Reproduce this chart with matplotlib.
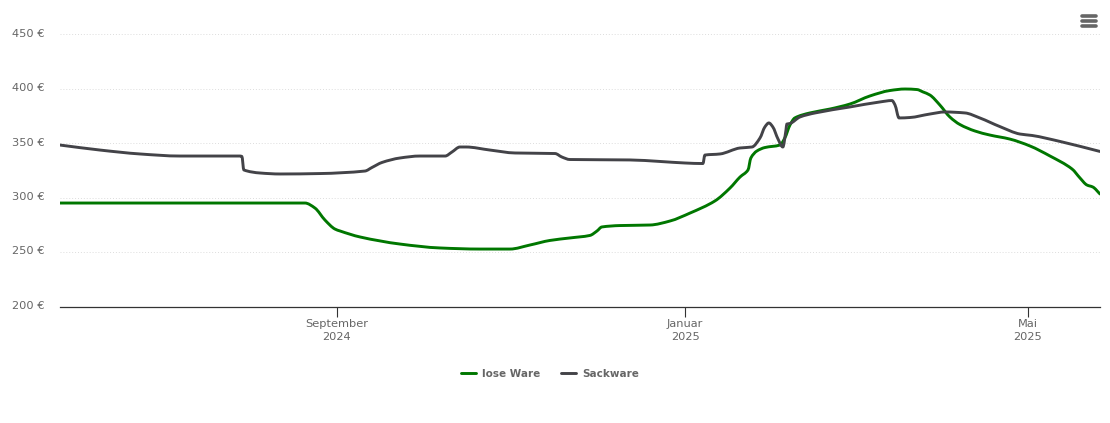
import matplotlib
matplotlib.use("Agg")
import matplotlib.pyplot as plt
import matplotlib.transforms as mtrans
from matplotlib.lines import Line2D
from matplotlib.patches import PathPatch
from matplotlib.path import Path

# days since 27 May 2024, price in euro
lose_days = [0, 85.8, 89.3, 92.8, 96.3, 98.1, 105.1, 119.1, 133.1, 147.1, 157.6, 164.6, 171.6, 178.6, 185.6, 188.1, 189.8,
	196.1, 206.7, 213.7, 220.7, 229.4, 234.7, 238.2, 241, 242, 244.1, 246.9, 252.2, 253.9, 255.7, 257.4, 262.7, 269.7,
	276.7, 283.7, 290.7, 296, 300.2, 302.3, 304.7, 308.2, 311.7, 315.2, 320.5, 325.7, 332.7, 339.8, 346.8, 354.5, 357.3,
	359.7, 361.8, 364.3]
lose_price = [295.1, 295.1, 290.5, 279.5, 271.2, 269.4, 263.9, 257.4, 253.8, 252.8, 252.8, 256.5, 260.7, 263, 265.3, 269.4, 273.1,
	274.4, 274.9, 278.6, 285.9, 297, 308.9, 319, 325.5, 336.5, 342.9, 346.1, 348.4, 354.9, 366.8, 373.3, 377.9, 381.5,
	386.1, 393.5, 398.5, 399.9, 399.4, 397.2, 394.4, 385.2, 374.2, 367.3, 361.3, 357.6, 353.9, 347.5, 338.3, 326.4, 318.1,
	311.7, 309.8, 303.4]
sack_days = [0, 14, 28, 42, 63, 63.7, 64.4, 70.1, 77.1, 91.1, 106.8, 109.3, 112.8, 119.1, 126.1, 134.9, 137.3, 140.1, 142.2,
	150.6, 159.4, 173.4, 175.8, 178.6, 199.6, 210.2, 218.9, 225.2, 225.9, 231.2, 238.2, 242.4, 245.2, 246.9, 248.3, 249.7,
	251.5, 253.2, 254.3, 254.6, 255.7, 259.2, 264.5, 276.7, 287.2, 291.4, 292.5, 293.9, 297.7, 304.7, 310, 317, 322.2,
	329.2, 336.3, 340.5, 350.3, 364.3]
sack_price = [348.4, 343.8, 340.2, 338.3, 338.3, 337.9, 325.5, 322.7, 321.8, 322.2, 324.5, 327.8, 332.4, 336.5, 338.3, 338.3, 342, 346.6, 346.6,
	343.8, 341.1, 340.6, 337.4, 335.1, 334.7, 333.3, 331.9, 331.4, 339.2, 340.2, 345.7, 346.6, 354.9, 365, 368.7, 365,
	354, 346.6, 362.2, 367.7, 368.2, 374.2, 377.9, 383.4, 388, 389.3, 385.2, 373.3, 373.7, 376.9, 378.8, 377.9, 373.3,
	365.4, 358.5, 357.2, 351.7, 342.5]

y_ticks = [200, 250, 300, 350, 400, 450]
x_ticks = [97, 219, 339]
x_labels = ['September\n2024', 'Januar\n2025', 'Mai\n2025']

W, H = 1110, 423
lose_col = '#007700'
sack_col = '#434348'
text_col = '#666666'
line_w = 2.1


def spline_path(xs, ys):
	# the chart draws a rounded line through the points, so use bezier segments with flat tangents at turns
	n = len(xs)
	slopes = [(ys[i+1]-ys[i])/(xs[i+1]-xs[i]) for i in range(n-1)]
	tang = [slopes[0]]
	for i in range(1, n-1):
		if slopes[i-1]*slopes[i] <= 0:
			tang.append(0)
		else:
			tang.append(2*slopes[i-1]*slopes[i]/(slopes[i-1]+slopes[i]))
	tang.append(slopes[-1])
	verts = [(xs[0], ys[0])]
	codes = [Path.MOVETO]
	for i in range(n-1):
		d = (xs[i+1]-xs[i])/3
		verts += [(xs[i]+d, ys[i]+d*tang[i]), (xs[i+1]-d, ys[i+1]-d*tang[i+1]), (xs[i+1], ys[i+1])]
		codes += [Path.CURVE4]*3
	return Path(verts, codes)


fig = plt.figure(figsize=(W/100, H/100), dpi=100)
ax = fig.add_axes([60/W, 1-306.5/H, 1040/W, 272/H])

ax.add_patch(PathPatch(spline_path(lose_days, lose_price), fc='none', ec=lose_col, lw=line_w, capstyle='round', joinstyle='round', zorder=3))
ax.add_patch(PathPatch(spline_path(sack_days, sack_price), fc='none', ec=sack_col, lw=line_w, capstyle='round', joinstyle='round', zorder=4))

ax.set_xlim(0, 364.3)
ax.set_ylim(200, 450)
ax.set_yticks(y_ticks, ['%d €' % v for v in y_ticks])
ax.set_xticks(x_ticks, x_labels)
ax.grid(axis='y', color='#dddddd', lw=0.7, ls=(0, (1, 2)))
ax.set_axisbelow(True)
for s in ['top', 'left', 'right']:
	ax.spines[s].set_visible(False)
ax.spines['bottom'].set_color('#333333')
ax.spines['bottom'].set_linewidth(0.9)
ax.tick_params(axis='y', length=0, pad=11, labelsize=8.2, labelcolor=text_col)
ax.tick_params(axis='x', length=7, width=0.8, color='#333333', pad=2, labelsize=8.2, labelcolor=text_col)

# y labels sit a little above their gridlines
up = mtrans.ScaledTranslation(0, 1.7/100, fig.dpi_scale_trans)
for t in ax.get_yticklabels():
	t.set_transform(t.get_transform() + up)
for t in ax.get_xticklabels():
	t.set_linespacing(1.4)

handles = [Line2D([], [], color=lose_col, lw=line_w, solid_capstyle='round'),
	Line2D([], [], color=sack_col, lw=line_w, solid_capstyle='round')]
ax.legend(handles, ['lose Ware', 'Sackware'], loc='center', bbox_to_anchor=(550/W, 1-373.5/H), bbox_transform=fig.transFigure,
	ncol=2, frameon=False, prop={'weight': 'bold', 'size': 7.5}, labelcolor=text_col, handlelength=1.45, handletextpad=0.55,
	columnspacing=2.0)

# menu icon, top right
for y in [16.3, 21.3, 26.3]:
	fig.add_artist(Line2D([1082/W, 1096/W], [1-y/H, 1-y/H], color='#666666', lw=2.6, solid_capstyle='round'))

fig.savefig('out.png', dpi=100)
